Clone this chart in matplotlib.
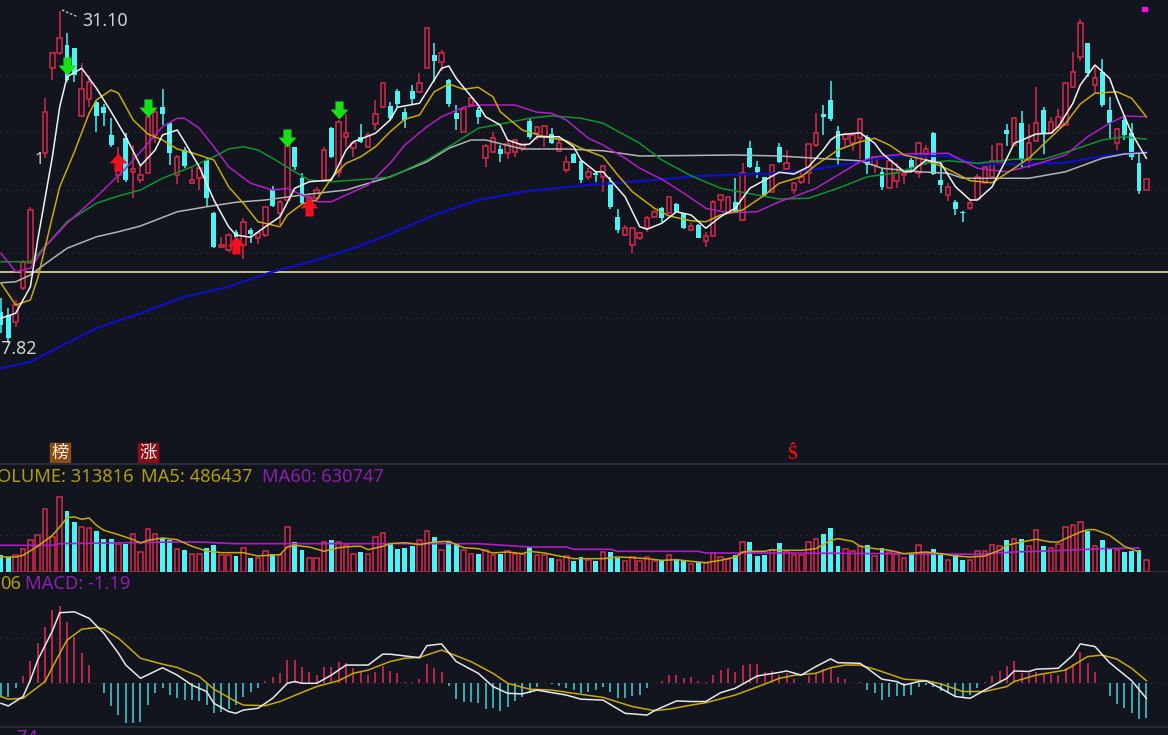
import numpy as np
import matplotlib
matplotlib.use('Agg')
import matplotlib.pyplot as plt
from matplotlib.path import Path
from matplotlib.patches import Rectangle

nan = float('nan')

opens = [19.07,18.94,18.67,20.01,21.01,nan,25.41,28.81,29.43,29.74,
 29.61,26.90,27.57,27.47,27.25,26.14,24.54,26.01,24.67,24.34,
 24.61,26.14,27.27,26.63,24.54,25.54,24.21,24.41,25.14,23.01,
 21.65,21.54,22.27,21.74,22.34,22.01,22.14,23.97,23.01,23.54,
 25.67,24.41,23.41,23.61,24.34,26.41,24.67,26.07,25.61,26.07,
 25.65,26.58,27.25,27.30,27.91,27.07,27.91,27.87,28.81,29.34,
 29.07,28.34,27.03,26.27,27.34,27.14,25.21,25.47,25.57,25.43,
 25.47,25.61,26.71,26.21,26.10,26.18,25.51,24.74,25.38,25.11,
 24.45,24.61,24.47,24.27,22.85,22.14,21.74,22.01,22.41,22.87,
 23.21,23.01,23.38,23.01,22.34,22.54,21.91,22.10,23.54,23.07,
 23.47,22.74,25.61,24.85,24.45,23.87,25.67,24.78,23.94,24.27,
 24.61,25.74,26.98,27.54,26.31,25.97,25.81,26.01,26.07,24.94,
 24.67,24.01,24.31,24.54,25.14,24.63,25.34,26.21,24.34,23.74,
 23.47,23.07,23.21,23.57,24.23,24.47,25.01,26.34,25.74,26.63,
 25.14,25.91,27.14,26.21,26.47,26.54,28.05,29.27,29.81,28.14,
 28.67,27.14,25.81,26.74,26.21,25.01,23.94]
highs = [19.61,19.21,19.54,21.14,23.27,nan,27.61,29.47,31.10,30.21,
 29.61,29.01,28.54,27.54,27.38,26.81,25.67,26.21,25.74,24.94,
 26.87,27.21,27.97,26.67,25.34,25.67,24.87,24.81,25.21,23.07,
 22.07,22.21,22.34,22.81,22.41,22.27,23.30,24.10,23.54,25.71,
 25.67,24.61,23.74,24.05,25.67,26.47,26.74,26.98,25.87,26.58,
 26.27,27.54,28.23,27.47,27.97,27.21,28.14,28.61,30.41,29.81,
 29.54,28.37,27.34,27.17,27.65,27.27,25.78,26.27,25.74,25.94,
 25.97,25.81,26.77,26.50,26.50,26.41,26.10,25.30,25.41,25.14,
 24.81,24.67,24.94,24.47,23.17,22.54,22.41,22.27,22.90,23.14,
 23.27,23.67,23.41,23.03,22.61,22.58,22.27,23.54,23.74,23.70,
 24.41,25.03,25.91,25.11,24.47,24.94,25.83,25.54,24.27,24.74,
 25.78,27.01,27.34,28.31,26.50,26.23,26.18,26.81,26.14,25.27,
 24.81,25.14,25.01,24.67,25.21,25.87,25.74,26.27,25.07,24.21,
 23.54,23.11,23.54,24.58,24.90,25.74,25.78,26.58,26.81,27.11,
 26.58,28.07,27.25,26.87,27.17,28.23,29.45,30.77,29.81,28.87,
 29.17,27.65,26.41,26.94,26.61,25.38,24.37]
lows = [18.21,17.82,18.47,19.94,21.01,nan,25.21,28.34,29.34,28.27,
 28.27,26.87,27.27,26.27,26.50,25.67,24.21,24.27,23.61,24.21,
 24.61,25.81,26.54,24.94,24.18,24.81,24.18,23.94,23.27,21.61,
 21.61,21.47,22.01,21.17,21.83,21.78,22.07,23.27,22.54,23.54,
 24.74,23.38,23.38,23.57,24.27,25.21,24.47,25.67,25.27,25.81,
 25.61,26.34,27.21,26.74,27.27,26.41,27.34,27.83,28.81,28.27,
 28.71,27.25,26.34,26.27,27.30,26.58,24.85,25.43,25.07,25.17,
 25.25,25.51,25.97,25.94,25.67,25.78,25.47,24.61,25.01,24.23,
 24.34,24.27,23.87,23.17,22.21,22.10,21.41,21.94,22.27,22.81,
 22.67,23.01,23.01,22.37,22.31,22.01,21.67,22.07,23.14,23.01,
 23.01,22.71,24.83,24.41,23.67,23.87,25.01,24.74,23.77,24.18,
 24.18,25.65,26.14,26.71,24.90,25.67,25.51,25.17,24.58,24.61,
 23.94,24.01,24.01,24.18,24.71,24.41,24.94,24.54,23.83,23.51,
 22.94,22.67,23.14,23.54,24.21,24.45,25.01,25.70,25.74,24.87,
 24.81,25.87,25.38,26.18,26.45,26.54,28.01,29.11,28.45,27.83,
 27.25,25.97,25.54,25.94,25.14,23.78,23.94]
closes = [18.54,18.01,19.34,21.07,23.14,nan,27.07,29.43,30.03,28.34,
 28.54,27.97,28.27,26.90,27.01,25.74,25.21,24.34,24.77,24.54,
 26.87,27.07,26.98,25.41,25.25,24.90,24.34,24.81,23.61,21.65,
 21.74,22.14,22.07,22.67,22.18,22.21,23.27,23.30,23.47,25.71,
 24.87,23.41,23.67,23.94,25.54,25.27,26.67,26.21,25.81,25.87,
 26.14,26.98,28.21,26.81,27.38,26.74,27.57,28.21,30.41,29.11,
 29.43,27.38,26.77,27.17,27.61,26.87,25.71,26.01,25.38,25.78,
 25.94,25.78,26.07,26.47,26.50,25.83,25.81,25.07,25.01,24.34,
 24.67,24.54,24.90,23.25,22.34,22.41,22.41,22.21,22.81,23.07,
 22.81,23.67,23.07,22.43,22.50,22.03,22.10,23.47,23.74,23.65,
 23.07,24.61,24.87,24.67,23.74,24.94,25.07,25.01,24.21,24.47,
 25.78,26.23,26.85,26.77,25.27,26.18,26.14,26.77,24.94,25.25,
 24.05,25.11,24.61,24.63,24.81,25.83,25.57,24.58,24.14,24.05,
 23.17,23.01,23.43,24.47,24.87,25.11,25.78,26.17,26.81,25.17,
 25.81,26.61,26.21,26.67,26.87,28.23,28.67,30.61,28.63,28.41,
 27.34,26.63,26.37,26.14,25.25,23.91,24.37]

# volume in thousands
volume = [433,390,433,607,823,953,1647,910,1950,1578,
 1300,1170,1153,1066,867,867,737,719,980,520,
 1127,980,893,841,607,563,477,477,633,711,
 433,433,407,633,373,373,546,459,433,1170,
 780,563,373,373,780,841,780,693,477,520,
 477,910,1023,754,607,633,676,823,1066,910,
 563,797,754,563,477,477,563,451,459,537,
 477,459,650,451,451,364,321,416,286,390,
 321,286,520,520,373,286,390,286,390,286,
 303,433,321,286,199,260,243,494,390,347,
 433,780,780,407,433,563,754,520,433,433,
 780,867,980,1136,676,590,537,676,702,407,
 633,520,459,364,459,702,503,590,459,321,
 433,321,321,546,537,702,668,823,867,867,
 668,1101,668,624,719,1170,1214,1300,1066,668,
 823,607,563,520,546,563,314]

vol_ma5_x = [0,2,3,5,7,8,9,10,11,12,13,14,16,18,19,20,22,24,26,28,30,33,35,38,39,40,42,44,46,48,49,50,52,
 53,55,57,59,61,63,65,67,69,71,72,74,76,78,80,82,84,86,88,90,92,94,96,98,100,101,102,104,105,106,
 109,111,113,114,116,117,119,121,123,126,128,130,132,134,136,137,139,141,143,144,145,147,148,149,151,153,155]
vol_ma5 = [390,390,433,668,954,1170,1413,1431,1370,1405,1214,1084,971,841,754,824,884,841,668,546,503,503,416,451,650,694,650,538,633,668,668,581,668,
 737,763,711,780,798,633,607,494,520,477,538,494,416,347,347,347,390,373,347,303,321,277,243,303,390,520,538,538,581,564,
 564,607,824,867,798,668,607,564,477,520,477,416,390,416,564,694,780,850,780,780,867,1040,1101,1101,954,668,520]
vol_ma60_x = [0,7,8,24,27,32,53,65,72,77,78,83,84,95,96,106,122,133,138,145,150,155]
vol_ma60 = [694,694,737,780,780,737,737,737,650,650,590,590,538,538,494,494,477,460,520,564,607,624]

macd_hist = [-.45,-.45,-.17,.25,.77,1.36,1.93,2.49,2.64,2.07,
 1.59,1.02,.62,0,-.34,-.77,-1.08,-1.36,-1.34,-1.30,
 -.74,-.34,-.17,-.40,-.51,-.57,-.57,-.59,-.74,-1.02,
 -.96,-.88,-.74,-.45,-.28,-.17,.09,.23,.34,.79,
 .79,.54,.37,.28,.54,.54,.74,.68,.51,.40,
 .28,.40,.59,.43,.34,.06,.06,.14,.66,.51,
 .37,-.09,-.54,-.62,-.62,-.68,-.88,-.85,-.93,-.79,
 -.59,-.45,-.34,-.14,0,-.03,-.08,-.17,-.23,-.34,
 -.28,-.23,-.11,-.28,-.51,-.51,-.43,-.40,-.17,0,
 .08,.28,.28,.17,.20,.09,.03,.28,.45,.51,
 .37,.62,.66,.66,.37,.43,.28,.34,.14,0,
 .25,.36,.48,.51,.20,.14,0,.06,-.23,-.34,
 -.57,-.48,-.43,-.43,-.40,-.11,-.06,-.14,-.25,-.28,
 -.43,-.48,-.40,-.17,.06,.25,.43,.59,.76,.34,
 .36,.37,.31,.32,.28,.51,.66,1.05,.70,.40,
 0,-.43,-.70,-.85,-1.00,-1.22,-1.19]

dif_x = [0,1,3,4,5,7,8,10,12,14,16,17,19,22,24,26,28,29,31,32,33,35,37,39,40,41,43,45,47,50,52,
 53,57,58,60,62,65,67,69,71,73,77,79,82,85,88,89,92,94,96,98,100,102,103,106,
 107,109,111,113,114,117,118,120,122,123,125,126,128,130,132,134,137,138,140,141,144,146,147,149,151,154,156]
dif = [-.68,-.77,-.45,.11,.79,1.78,2.40,2.43,2.21,1.70,1.02,.62,.17,.53,.28,-.06,-.28,-.68,-.96,-1.02,-.91,-.85,-.51,0,.06,0,0,.28,.62,.62,.99,
 .99,.87,1.28,1.34,.74,.34,-.11,-.34,-.36,-.23,-.40,-.54,-.57,-1.02,-1.08,-.93,-.60,-.62,-.62,-.32,-.17,.11,.25,.37,
 .42,.28,.57,.83,.70,.68,.51,.14,.06,-.06,.06,.08,-.17,-.45,-.51,-.23,.17,.42,.40,.48,.51,.96,1.34,1.25,.70,.09,-.51]
dea_x = [0,1,3,4,6,8,9,11,13,14,16,18,19,22,24,27,29,32,33,36,38,41,43,46,48,50,53,
 55,57,60,64,67,69,72,75,78,82,86,89,91,94,96,100,104,106,
 108,111,113,115,117,119,123,126,128,131,134,137,138,141,145,148,150,152,154,156]
dea = [-.45,-.54,-.51,-.32,.06,1.02,1.47,1.84,1.90,1.84,1.53,1.08,.85,.65,.54,.23,-.20,-.62,-.74,-.76,-.62,-.31,-.11,.09,.34,.45,.74,
 .85,.88,1.13,.74,.34,0,-.20,-.23,-.34,-.48,-.79,-.93,-.88,-.74,-.66,-.40,-.03,.17,
 .27,.34,.53,.62,.62,.48,.14,.09,-.02,-.28,-.28,-.11,.06,.28,.45,.91,.96,.82,.51,.09]

ma5_x = [0,2,4,5,7,8,9,11,13,15,17,19,21,22,24,25,27,29,31,32,34,36,38,40,42,45,47,48,51,53,
 54,57,59,60,61,62,65,66,68,69,71,72,73,76,78,79,81,82,85,87,88,90,92,94,96,98,100,102,106,
 108,110,112,113,114,117,119,120,123,124,126,128,130,132,133,135,137,138,141,143,144,146,147,149,151,152,154,156]
ma5 = [18.81,19.01,20.07,21.94,25.27,27.27,28.47,28.81,28.01,27.07,26.07,24.91,25.54,26.14,26.34,25.87,24.87,23.54,22.47,22.14,22.05,22.47,22.87,24.01,24.27,24.34,25.54,25.87,26.21,26.74,
 27.25,27.41,28.34,28.81,28.90,28.41,27.34,26.87,26.54,25.94,25.74,25.78,26.07,26.07,25.67,25.14,24.67,24.67,23.67,22.47,22.37,22.61,23.07,22.94,22.41,22.87,23.21,24.01,24.65,
 24.58,24.87,25.54,25.94,26.14,26.23,25.81,25.41,24.67,24.67,25.14,25.01,24.07,23.54,23.54,24.07,25.21,25.81,26.18,26.21,26.47,27.41,28.14,28.94,28.41,27.61,26.21,25.21]
ma10_x = [0,2,4,5,7,8,10,12,13,15,16,18,20,22,24,26,29,31,33,35,38,39,41,43,45,47,49,51,53,
 55,57,59,61,63,65,67,68,71,74,77,79,82,84,86,89,91,94,96,98,101,104,106,
 109,111,114,117,119,121,123,126,129,132,135,138,140,143,145,147,149,152,154,156]
ma10 = [20.21,19.34,19.54,20.41,22.87,24.07,25.47,27.01,27.54,27.94,27.81,26.74,26.18,25.94,25.58,25.43,25.14,24.07,23.41,22.67,22.47,22.94,23.38,23.54,24.41,25.01,25.27,25.67,26.27,
 26.77,26.94,27.87,28.18,27.97,28.05,27.67,27.07,26.34,26.07,25.91,25.61,25.27,24.54,23.87,23.21,22.90,22.71,22.67,22.94,23.14,23.74,24.21,
 24.47,24.94,25.54,25.87,26.01,25.74,25.34,25.14,24.77,24.31,24.23,24.81,25.21,26.05,26.61,27.38,27.81,27.87,27.61,26.87]
ma20_x = [0,2,4,6,9,13,17,19,22,24,25,27,29,31,34,37,39,43,45,47,50,53,
 55,58,60,63,65,70,73,75,77,80,82,85,87,90,93,96,99,103,106,
 108,111,114,117,119,123,129,133,137,141,145,148,151,153,156]
ma20 = [21.41,20.67,20.81,21.67,22.61,23.67,24.81,25.47,26.47,26.81,26.81,26.41,25.67,24.87,24.21,23.94,24.01,23.47,23.47,23.74,24.14,25.01,
 25.74,26.47,26.87,27.25,27.34,27.34,27.05,27.01,26.74,26.01,25.74,25.21,24.81,24.37,23.81,23.21,23.03,23.07,23.47,
 23.67,24.01,24.54,25.07,25.27,25.38,25.41,24.81,24.67,24.97,25.34,26.07,26.61,26.90,26.87]
ma30_x = [0,4,6,9,13,16,19,22,26,29,31,33,35,37,40,42,45,50,53,
 58,61,65,69,72,75,79,82,87,90,94,98,103,106,
 110,114,118,122,126,129,133,138,142,146,150,153,156]
ma30 = [21.07,21.07,21.67,22.67,23.41,23.70,23.94,24.41,24.87,25.27,25.58,25.67,25.54,25.21,24.67,24.34,24.27,24.38,24.45,
 25.14,25.67,26.41,26.63,26.81,26.91,26.81,26.61,25.81,25.14,24.51,24.01,23.74,23.58,
 23.61,24.01,24.47,24.63,25.01,25.11,25.01,25.17,25.17,25.54,25.94,26.07,25.97]
ma60_x = [0,2,4,6,9,13,16,19,24,28,32,36,41,47,53,
 58,61,64,66,71,77,82,87,100,106,
 111,117,120,125,129,131,140,145,150,153,156]
ma60 = [20.23,20.27,20.54,20.98,21.61,22.07,22.27,22.50,23.07,23.27,23.45,23.54,23.74,23.94,24.47,
 25.07,25.61,25.94,25.94,25.58,25.58,25.51,25.30,25.34,25.30,
 25.21,25.11,24.81,24.67,24.61,24.41,24.41,24.67,25.21,25.38,25.43]
ma120_x = [0,4,8,13,19,25,31,37,43,48,53,59,65,72,80,89,95,106,111,117,122,129,133,138,145,150,156]
ma120 = [16.81,17.07,17.67,18.41,19.01,19.67,20.07,20.67,21.14,21.61,22.18,22.94,23.54,23.91,24.14,24.34,24.50,24.61,24.77,25.07,25.30,25.30,24.98,24.98,25.03,25.30,25.47]

sell_x = [9, 20, 39, 46]
sell_y = [28.90, 27.22, 26.02, 27.14]
buy_x = [16, 32, 42]
buy_y = [25.06, 21.74, 23.26]
grid_prices = [28.54, 26.26, 23.94, 21.42, 18.82]
ref_price = 20.68

BG = '#12151e'
RED = '#d62a4c'
CYAN = '#4df2f5'
TEAL = '#45c4cc'
GRID = '#2c2f37'
BORDER = '#2f323a'
OLIVE = '#b09c10'
PURPLE = '#8c1fb0'

W, H = 1168, 735
fig = plt.figure(figsize=(W / 100, H / 100), dpi=100, facecolor=BG)


def panel(top, bottom, ymin, ymax):
    ax = fig.add_axes([0, 1 - bottom / H, 1, (bottom - top) / H], facecolor=BG)
    ax.set_xlim(-0.136, 158.95)
    ax.set_ylim(ymin, ymax)
    ax.axis('off')
    return ax


def dotted(ax, y):
    ax.axhline(y, color=GRID, lw=0.8, ls=(0, (1.5, 3.5)), zorder=1)


o = np.array(opens)
h = np.array(highs)
l = np.array(lows)
c = np.array(closes)
xs = np.arange(len(o))
up = ~(c < o)

# main panel
ax = panel(0, 463, 13.02, 31.54)
for p in grid_prices:
    dotted(ax, p)
ax.axhline(ref_price, color='#e6dc96', lw=1.2, zorder=2)
ax.vlines(xs[up], l[up], h[up], color=RED, lw=1.1, zorder=3)
ax.vlines(xs[~up], l[~up], h[~up], color=CYAN, lw=1.1, zorder=3)
ax.bar(xs[up], (c - o)[up], bottom=o[up], width=0.62, facecolor=BG, edgecolor=RED, lw=1.1, zorder=4)
ax.bar(xs[~up], (o - c)[~up], bottom=c[~up], width=0.66, color=CYAN, lw=0, zorder=4)

ax.plot(ma120_x, ma120, color='#0e0ec4', lw=1.6, zorder=5)
ax.plot(ma60_x, ma60, color='#b4b4b4', lw=1.1, zorder=5)
ax.plot(ma30_x, ma30, color='#10922f', lw=1.1, zorder=5)
ax.plot(ma20_x, ma20, color='#b020c4', lw=1.1, zorder=6)
ax.plot(ma10_x, ma10, color='#c9a90a', lw=1.1, zorder=7)
ax.plot(ma5_x, ma5, color='#f2f2f2', lw=1.1, zorder=8)

down_arrow = Path([(-.45, 1), (.45, 1), (.45, .1), (1, .1), (0, -1), (-1, .1), (-.45, .1), (-.45, 1)], closed=True)
up_arrow = Path([(-.45, -1), (.45, -1), (.45, -.1), (1, -.1), (0, 1), (-1, -.1), (-.45, -.1), (-.45, -1)], closed=True)
ax.plot(sell_x, sell_y, ls='none', marker=down_arrow, ms=13, mfc='#18e018', mec='none', zorder=9)
ax.plot(buy_x, buy_y, ls='none', marker=up_arrow, ms=13, mfc='#f01020', mec='none', zorder=9)

# volume panel
vol = np.array(volume)
vax = panel(463, 572, 0, 2834)
dotted(vax, 975)
vax.axhline(0, color=BORDER, lw=1.2, zorder=1)
vax.bar(xs[up], vol[up], width=0.62, facecolor=BG, edgecolor=RED, lw=1.1, zorder=3)
vax.bar(xs[~up], vol[~up], width=0.66, color=CYAN, lw=0, zorder=3)
vax.plot(vol_ma60_x, vol_ma60, color='#b01cc8', lw=1.2, zorder=4)
vax.plot(vol_ma5_x, vol_ma5, color='#c9a90a', lw=1.1, zorder=5)

# macd panel
hist = np.array(macd_hist)
max_ = panel(572, 727, -1.486, 3.784)
dotted(max_, 1.55)
dotted(max_, 0)
max_.vlines(xs[hist > 0], 0, hist[hist > 0], color=RED, lw=1.2, zorder=3)
max_.vlines(xs[hist < 0], hist[hist < 0], 0, color=TEAL, lw=1.2, zorder=3)
max_.plot(dea_x, dea, color='#c9a90a', lw=1.1, zorder=4)
max_.plot(dif_x, dif, color='#e8e8e8', lw=1.1, zorder=5)

# panel borders
fig.add_artist(plt.Line2D([0, 1], [1 - 463.5 / H] * 2, color=BORDER, lw=1.2))
fig.add_artist(plt.Line2D([0, 1], [1 - 726.5 / H] * 2, color=BORDER, lw=1.2))


def label(x, y, s, color, size=13.2, **kw):
    kw.setdefault('family', 'Noto Sans')
    fig.text(x / W, 1 - y / H, s, color=color, fontsize=size, va='center', **kw)


# labels
label(82, 20.5, '31.10', '#d2d2d2', size=12.8)
fig.add_artist(plt.Line2D([62 / W, 78 / W], [1 - 10 / H, 1 - 17 / H], color='#d2d2d2', lw=0.9, ls=(0, (2, 1.5))))
label(-9, 349, '17.82', '#d2d2d2', size=12.8)
label(35, 160, '1', '#d2d2d2', size=12)
label(-14, 477, 'VOLUME: 313816', OLIVE)
label(141, 477, 'MA5: 486437', OLIVE)
label(262, 477, 'MA60: 630747', PURPLE)
label(0, 584, '06', OLIVE)
label(25, 584, 'MACD: -1.19', PURPLE)
label(6, 738, '-.74', '#a81cc0')

for x0, s, col in [(50, '榜', '#8a4a12'), (138, '涨', '#8c0c16')]:
    fig.add_artist(Rectangle((x0 / W, 1 - 462 / H), 20 / W, 19 / H, color=col, transform=fig.transFigure))
    fig.text((x0 + 10) / W, 1 - 452.5 / H, s, color='#f4ece0', fontsize=12.5, ha='center', va='center',
             family=['Noto Sans CJK SC', 'DejaVu Sans'])

fig.text(792.5 / W, 1 - 454 / H, 'Ŝ', color='#e81010', fontsize=13, fontweight='bold', ha='center', va='center',
         family='Liberation Serif')
fig.add_artist(Rectangle((1142 / W, 1 - 11 / H), 4.5 / W, 4.5 / H, color='#f010e0', transform=fig.transFigure))

fig.savefig('out.png', dpi=100, facecolor=BG)
